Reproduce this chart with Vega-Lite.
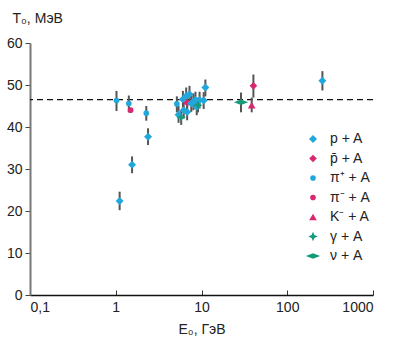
{
  "$schema": "https://vega.github.io/schema/vega-lite/v6.json",
  "width": 343,
  "height": 252,
  "autosize": "none",
  "padding": {"left": 30, "top": 43, "right": 27, "bottom": 59},
  "background": "white",
  "config": {
    "view": {"stroke": null},
    "font": "Liberation Sans",
    "axis": {"grid": false, "labelFont": "Liberation Sans", "titleFont": "Liberation Sans", "labelColor": "#222", "titleColor": "#222", "titleFontWeight": "normal"}
  },
  "datasets": {
    "pts": [
      {"E": 1.02, "T": 46.3, "lo": 43.8, "hi": 48.6, "type": "π⁺ + A"},
      {"E": 1.42, "T": 45.6, "lo": 43.5, "hi": 47.5, "type": "π⁺ + A"},
      {"E": 1.49, "T": 44.0, "lo": 44.0, "hi": 44.0, "type": "π⁻ + A"},
      {"E": 2.27, "T": 43.3, "lo": 41.5, "hi": 45.0, "type": "π⁺ + A"},
      {"E": 2.38, "T": 37.7, "lo": 35.7, "hi": 39.7, "type": "p + A"},
      {"E": 1.55, "T": 31.0, "lo": 29.0, "hi": 33.0, "type": "p + A"},
      {"E": 1.11, "T": 22.4, "lo": 20.2, "hi": 24.6, "type": "p + A"},
      {"E": 5.16, "T": 45.5, "lo": 43.5, "hi": 47.3, "type": "π⁺ + A"},
      {"E": 5.4, "T": 42.9, "lo": 41.0, "hi": 45.0, "type": "p + A"},
      {"E": 5.8, "T": 42.3, "lo": 40.5, "hi": 44.0, "type": "γ + A"},
      {"E": 6.07, "T": 46.6, "lo": 44.6, "hi": 48.6, "type": "p + A"},
      {"E": 6.2, "T": 44.0, "lo": 42.0, "hi": 46.0, "type": "p + A"},
      {"E": 6.63, "T": 47.4, "lo": 45.4, "hi": 49.4, "type": "p + A"},
      {"E": 7.25, "T": 47.8, "lo": 45.8, "hi": 49.8, "type": "p + A"},
      {"E": 6.8, "T": 45.8, "lo": 43.8, "hi": 47.8, "type": "p̄ + A"},
      {"E": 6.8, "T": 43.6, "lo": 41.6, "hi": 45.6, "type": "p + A"},
      {"E": 7.6, "T": 45.6, "lo": 43.6, "hi": 47.6, "type": "p + A"},
      {"E": 8.05, "T": 46.0, "lo": 44.0, "hi": 48.0, "type": "p + A"},
      {"E": 8.5, "T": 46.4, "lo": 44.4, "hi": 48.4, "type": "p + A"},
      {"E": 8.8, "T": 44.8, "lo": 42.8, "hi": 46.8, "type": "p + A"},
      {"E": 9.5, "T": 46.4, "lo": 44.4, "hi": 48.4, "type": "p + A"},
      {"E": 10.6, "T": 46.3, "lo": 44.3, "hi": 48.3, "type": "p + A"},
      {"E": 9.1, "T": 45.2, "lo": 43.5, "hi": 47.0, "type": "γ + A"},
      {"E": 11.1, "T": 49.4, "lo": 47.3, "hi": 51.3, "type": "p + A"},
      {"E": 28.9, "T": 45.9, "lo": 43.5, "hi": 48.2, "type": "ν + A"},
      {"E": 40.3, "T": 49.8, "lo": 47.0, "hi": 52.5, "type": "p̄ + A"},
      {"E": 38.5, "T": 45.2, "lo": 43.5, "hi": 47.0, "type": "K⁻ + A"},
      {"E": 257, "T": 51.0, "lo": 48.7, "hi": 53.3, "type": "p + A"}
    ]
  },
  "layer": [
    {
      "data": {"values": [{"T": 46.5}]},
      "mark": {"type": "rule", "color": "#111", "strokeDash": [6, 4], "strokeWidth": 1.2},
      "encoding": {"y": {"field": "T", "type": "quantitative", "scale": {"domain": [0, 60]}}}
    },
    {
      "data": {"name": "pts"},
      "mark": {"type": "rule", "color": "#555", "strokeWidth": 2},
      "encoding": {
        "x": {"field": "E", "type": "quantitative"},
        "y": {"field": "lo", "type": "quantitative"},
        "y2": {"field": "hi"}
      }
    },
    {
      "data": {"name": "pts"},
      "mark": {"type": "point", "filled": true, "opacity": 1},
      "encoding": {
        "x": {
          "field": "E", "type": "quantitative",
          "scale": {"type": "log", "domain": [0.1, 1000], "nice": false},
          "axis": {
            "values": [0.1, 1, 10, 100, 1000],
            "labelExpr": "datum.value < 0.5 ? '0,1' : format(datum.value, 'd')",
            "labelFontSize": 14, "tickSize": -5, "tickColor": "#333", "domainColor": "#111", "domainWidth": 1.5,
            "labelPadding": 10, "title": "E₀, ГэВ", "titleFontSize": 14, "titlePadding": 8
          }
        },
        "y": {
          "field": "T", "type": "quantitative",
          "scale": {"domain": [0, 60]},
          "axis": {
            "values": [0, 10, 20, 30, 40, 50, 60],
            "labelFontSize": 14, "tickSize": 5, "tickColor": "#444", "domainColor": "#777", "domainWidth": 2,
            "labelPadding": 3,
            "title": "T₀, МэВ", "titleFontSize": 14, "titleAngle": 0, "titleAlign": "left", "titleBaseline": "alphabetic",
            "titleX": -18, "titleY": -21
          }
        },
        "size": {
          "field": "type", "type": "ordinal",
          "scale": {
            "type": "ordinal",
            "domain": ["p + A", "p̄ + A", "π⁺ + A", "π⁻ + A", "K⁻ + A", "γ + A", "ν + A"],
            "range": [64, 58, 32, 32, 60, 90, 80]
          },
          "legend": null
        },
        "color": {
          "field": "type", "type": "nominal",
          "scale": {
            "domain": ["p + A", "p̄ + A", "π⁺ + A", "π⁻ + A", "K⁻ + A", "γ + A", "ν + A"],
            "range": ["#22a7dc", "#d8286f", "#22a7dc", "#d8286f", "#d8286f", "#159a7c", "#159a7c"]
          },
          "legend": {
            "title": null, "orient": "none", "legendX": 276, "legendY": 89,
            "labelFontSize": 14, "labelColor": "#222", "rowPadding": 5.5, "labelOffset": 10, "padding": 0
          }
        },
        "shape": {
          "field": "type", "type": "nominal",
          "scale": {
            "domain": ["p + A", "p̄ + A", "π⁺ + A", "π⁻ + A", "K⁻ + A", "γ + A", "ν + A"],
            "range": ["diamond", "diamond", "circle", "circle", "triangle-up", "M0,-1L0.3,-0.3L1,0L0.3,0.3L0,1L-0.3,0.3L-1,0L-0.3,-0.3Z", "M-1.6,0L0,-0.6L1.6,0L0,0.6Z"]
          }
        }
      }
    }
  ]
}
